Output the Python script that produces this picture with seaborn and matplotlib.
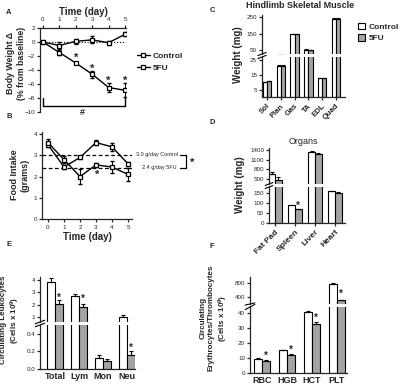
import numpy as np
import pandas as pd
import matplotlib
matplotlib.use('Agg')
import matplotlib.pyplot as plt
from matplotlib.lines import Line2D
from matplotlib.patches import Patch
import seaborn as sns

# A - body weight change
days = [0, 1, 2, 3, 4, 5]
bw_ctrl = [0.0, -0.5, 0.1, 0.3, -0.1, 1.1]
bw_ctrl_err = [0.1, 0.5, 0.4, 0.5, 0.3, 0.3]
bw_5fu = [0.0, -1.5, -3.0, -4.6, -6.5, -6.9]
bw_5fu_err = [0.1, 0.3, 0.2, 0.5, 0.6, 1.0]
bw_star_days = [2, 3, 4, 5]
bw_star_y = [-2.3, -3.8, -5.6, -5.6]

# B - food intake
fi_ctrl = [3.5, 2.45, 2.9, 3.6, 3.4, 2.6]
fi_ctrl_err = [0.1, 0.1, 0.05, 0.1, 0.2, 0.1]
fi_5fu = [3.6, 2.8, 2.0, 2.55, 2.45, 2.1]
fi_5fu_err = [0.15, 0.15, 0.35, 0.1, 0.3, 0.3]
fi_avg = [3.0, 2.4]
fi_avg_labels = ['3.0 g/day Control', '2.4 g/day 5FU']

# C - hindlimb muscles
muscles = ['Sol', 'Plan', 'Gas', 'TA', 'EDL', 'Quad']
mus_ctrl = [10.0, 21.0, 147, 52, 12.5, 237]
mus_ctrl_err = [0.4, 0.6, 3, 2, 0.4, 5]
mus_5fu = [10.5, 21.0, 145, 51, 12.5, 236]
mus_5fu_err = [0.4, 0.6, 3, 2, 0.4, 5]

# D - organs
organs = ['Fat Pad', 'Spleen', 'Liver', 'Heart']
org_ctrl = [650, 88, 1330, 158]
org_ctrl_err = [60, 2, 50, 3]
org_5fu = [480, 68, 1290, 150]
org_5fu_err = [90, 3, 30, 3]

# E - leukocytes
leuko = ['Total', 'Lym', 'Mon', 'Neu']
leu_ctrl = [3.85, 2.7, 0.12, 1.0]
leu_ctrl_err = [0.35, 0.15, 0.035, 0.2]
leu_5fu = [2.05, 1.8, 0.09, 0.16]
leu_5fu_err = [0.3, 0.3, 0.02, 0.04]

# F - erythrocytes / thrombocytes
eryth = ['RBC', 'HGB', 'HCT', 'PLT']
ery_ctrl = [9.5, 15.3, 40.5, 780]
ery_ctrl_err = [0.3, 0.3, 0.6, 15]
ery_5fu = [8.2, 12.0, 33.0, 300]
ery_5fu_err = [0.4, 0.6, 1.2, 15]

sns.set_style('ticks')
plt.rcParams['font.family'] = ['Liberation Sans', 'DejaVu Sans']
plt.rcParams['mathtext.default'] = 'regular'
plt.rcParams['axes.linewidth'] = 0.9
plt.rcParams['xtick.major.size'] = 2.5
plt.rcParams['ytick.major.size'] = 2.5
plt.rcParams['xtick.major.width'] = 0.9
plt.rcParams['ytick.major.width'] = 0.9
plt.rcParams['xtick.major.pad'] = 1.5
plt.rcParams['ytick.major.pad'] = 1

GRAY = '#a3a3a3'
TICK = 4.5
fig = plt.figure(figsize=(4, 3.9), dpi=100)


def rect(x0, y0, x1, y1):
    return [x0 / 400, 1 - y1 / 390, (x1 - x0) / 400, (y1 - y0) / 390]


def ftext(x, y, s, **kw):
    fig.text(x / 400, 1 - y / 390, s, **kw)


def bar_pair(ax, cats, ctrl, ctrl_err, fu, fu_err, width):
    n = len(cats)
    df = pd.DataFrame({'cat': cats * 2,
                       'group': ['Control'] * n + ['5FU'] * n,
                       'val': ctrl + fu})
    sns.barplot(data=df, x='cat', y='val', hue='group', order=cats,
                hue_order=['Control', '5FU'],
                palette={'Control': 'white', '5FU': GRAY}, saturation=1,
                edgecolor='black', linewidth=0.8, width=width,
                errorbar=None, legend=False, ax=ax)
    xs = np.arange(n)
    for off, v, e in [(-width / 4, ctrl, ctrl_err), (width / 4, fu, fu_err)]:
        ax.errorbar(xs + off, v, yerr=[np.zeros(n), e], fmt='none',
                    ecolor='black', elinewidth=0.8, capsize=1.5, capthick=0.8)
    ax.set_xlabel('')
    ax.set_ylabel('')


def broken(top_px, bot_px, cats, ctrl, ctrl_err, fu, fu_err, width,
           xlim, top_lim, bot_lim, top_ticks, bot_ticks):
    axt = fig.add_axes(rect(*top_px))
    axb = fig.add_axes(rect(*bot_px))
    for ax in (axt, axb):
        bar_pair(ax, cats, ctrl, ctrl_err, fu, fu_err, width)
        ax.set_xlim(*xlim)
        sns.despine(ax=ax)
        ax.tick_params(labelsize=TICK)
    axt.set_ylim(*top_lim)
    axb.set_ylim(*bot_lim)
    axt.set_yticks(top_ticks)
    axb.set_yticks(bot_ticks)
    axt.spines['bottom'].set_visible(False)
    axt.tick_params(axis='x', bottom=False, labelbottom=False)
    # break marks
    for ax, y in [(axt, 0), (axb, 1)]:
        ax.plot([-0.05, 0.05], [y - 0.04, y + 0.04], transform=ax.transAxes,
                color='black', lw=0.8, clip_on=False)
    return axt, axb


# ---------- A ----------
axA = fig.add_axes(rect(40, 28, 126, 112))
ax_kw = dict(color='black', marker='s', markersize=3.5, markerfacecolor='white',
             markeredgecolor='black', markeredgewidth=0.9, linewidth=1)
axA.axhline(0, color='black', ls=':', lw=0.8)
axA.errorbar(days, bw_ctrl, yerr=bw_ctrl_err, fmt='none', ecolor='black', elinewidth=0.8, capsize=1.5)
axA.errorbar(days, bw_5fu, yerr=bw_5fu_err, fmt='none', ecolor='black', elinewidth=0.8, capsize=1.5)
sns.lineplot(x=days, y=bw_ctrl, ax=axA, zorder=3, **ax_kw)
sns.lineplot(x=days, y=bw_5fu, ax=axA, zorder=3, **ax_kw)
for d, y in zip(bw_star_days, bw_star_y):
    axA.text(d, y, '*', ha='center', va='center', fontsize=8, fontweight='bold')
axA.plot([0, 0, 5, 5], [-8.0, -9.2, -9.2, -8.0], color='black', lw=1, clip_on=False)
axA.text(2.4, -10.1, '#', ha='center', va='center', fontsize=6.5, fontweight='bold')
axA.set_xlim(-0.18, 5.06)
axA.set_ylim(-10, 2)
axA.set_xticks(days)
axA.set_yticks([2, 0, -2, -4, -6, -8, -10])
axA.xaxis.tick_top()
axA.xaxis.set_label_position('top')
axA.spines['bottom'].set_visible(False)
axA.spines['right'].set_visible(False)
axA.tick_params(labelsize=TICK)
axA.set_xlabel('Time (day)', fontsize=7, fontweight='bold', labelpad=2)
ftext(16, 63, 'Body Weight \u0394\n(% from baseline)', rotation=90, ha='center',
      va='center', fontsize=6.3, fontweight='bold', linespacing=1.15)
leg_h = [Line2D([], [], **ax_kw), Line2D([], [], **ax_kw)]
fig.legend(leg_h, ['Control', '5FU'], loc='upper left',
           bbox_to_anchor=(129 / 400, 1 - 45 / 390), frameon=False,
           prop={'size': 6, 'weight': 'bold'}, handlelength=1.6,
           handletextpad=0.3, labelspacing=0.4)

# ---------- B ----------
axB = fig.add_axes(rect(42, 132, 132, 219))
for y in fi_avg:
    axB.axhline(y, color='black', ls='--', lw=0.9, dashes=(3, 2))
axB.errorbar(days, fi_ctrl, yerr=fi_ctrl_err, fmt='none', ecolor='black', elinewidth=0.8, capsize=1.5)
axB.errorbar(days, fi_5fu, yerr=fi_5fu_err, fmt='none', ecolor='black', elinewidth=0.8, capsize=1.5)
sns.lineplot(x=days, y=fi_ctrl, ax=axB, zorder=3, **ax_kw)
sns.lineplot(x=days, y=fi_5fu, ax=axB, zorder=3, **ax_kw)
axB.text(3.05, 2.1, '*', ha='center', va='center', fontsize=8, fontweight='bold')
axB.set_xlim(-0.375, 5.25)
axB.set_ylim(0, 4.1)
axB.set_xticks(days)
axB.set_yticks([0, 1, 2, 3, 4])
sns.despine(ax=axB)
axB.tick_params(labelsize=TICK)
axB.set_xlabel('Time (day)', fontsize=7, fontweight='bold', labelpad=2)
ftext(20, 175, 'Food Intake\n(grams)', rotation=90, ha='center', va='center',
      fontsize=6.5, fontweight='bold', linespacing=1.15)
ftext(178, 155, fi_avg_labels[0], ha='right', va='center', fontsize=4)
ftext(177, 168, fi_avg_labels[1], ha='right', va='center', fontsize=4)
fig.add_artist(Line2D([180 / 400, 186 / 400, 186 / 400, 180 / 400],
                      [1 - 155 / 390, 1 - 155 / 390, 1 - 168 / 390, 1 - 168 / 390],
                      color='black', lw=0.9))
ftext(192, 163, '*', ha='center', va='center', fontsize=8, fontweight='bold')

# ---------- C ----------
axCt, axCb = broken((262, 15, 345, 54), (262, 57, 345, 97), muscles,
                    mus_ctrl, mus_ctrl_err, mus_5fu, mus_5fu_err, 0.6,
                    (-0.36, 5.65), (26, 262), (0, 27), [50, 150, 250], [5, 15, 25])
axCb.set_xticks(range(len(muscles)))
axCb.set_xticklabels(muscles, rotation=45, ha='right', rotation_mode='anchor',
                     fontsize=5.5, fontweight='bold')
ftext(300, 6, 'Hindlimb Skeletal Muscle', ha='center', va='center',
      fontsize=6.5, fontweight='bold')
ftext(238, 55, 'Weight (mg)', rotation=90, ha='center', va='center',
      fontsize=7, fontweight='bold')
leg_p = [Patch(facecolor='white', edgecolor='black', lw=0.8),
         Patch(facecolor=GRAY, edgecolor='black', lw=0.8)]
fig.legend(leg_p, ['Control', '5FU'], loc='upper left',
           bbox_to_anchor=(350 / 400, 1 - 15 / 390), frameon=False,
           prop={'size': 6, 'weight': 'bold'}, handlelength=0.9, handleheight=0.9,
           handletextpad=0.4, labelspacing=0.35)

# ---------- D ----------
axDt, axDb = broken((269, 148, 345, 184), (269, 187, 345, 223), organs,
                    org_ctrl, org_ctrl_err, org_5fu, org_5fu_err, 0.66,
                    (-0.3, 3.5), (350, 1460), (0, 180),
                    [500, 800, 1100, 1400], [0, 50, 100, 150])
axDb.set_xticks(range(len(organs)))
axDb.set_xticklabels(organs, rotation=45, ha='right', rotation_mode='anchor',
                     fontsize=6, fontweight='bold')
axDb.text(1 + 0.165, 85, '*', ha='center', va='center', fontsize=7, fontweight='bold')
ftext(303, 141, 'Organs', ha='center', va='center', fontsize=6.5)
ftext(240, 185, 'Weight (mg)', rotation=90, ha='center', va='center',
      fontsize=7, fontweight='bold')

# ---------- E ----------
axEt, axEb = broken((40, 277, 135, 322), (40, 325, 135, 369), leuko,
                    leu_ctrl, leu_ctrl_err, leu_5fu, leu_5fu_err, 0.66,
                    (-0.625, 3.33), (0.6, 4.25), (0, 0.5),
                    [1, 2, 3, 4], [0.0, 0.2, 0.4])
axEb.set_yticklabels(['0.0', '0.2', '0.4'])
axEb.set_xticks(range(len(leuko)))
axEb.set_xticklabels(leuko, fontsize=6.5, fontweight='bold')
axEb.tick_params(axis='x', length=0, pad=2)
for i, y in [(0, 2.55), (1, 2.5)]:
    axEt.text(i + 0.165, y, '*', ha='center', va='center', fontsize=7, fontweight='bold')
axEb.text(3 + 0.165, 0.245, '*', ha='center', va='center', fontsize=7, fontweight='bold')
ftext(11, 320, 'Circulating Leukocytes\n(Cells x 10$^9$)', rotation=90,
      ha='center', va='center', fontsize=5.8, fontweight='bold', linespacing=1.25)

# ---------- F ----------
axFt, axFb = broken((250, 277, 347, 304), (250, 307, 347, 373), eryth,
                    ery_ctrl, ery_ctrl_err, ery_5fu, ery_5fu_err, 0.66,
                    (-0.48, 3.4), (200, 970), (0, 44),
                    [400, 800], [0, 10, 20, 30, 40])
axFb.set_xticks(range(len(eryth)))
axFb.set_xticklabels(eryth, fontsize=6.5, fontweight='bold')
axFb.tick_params(axis='x', length=0, pad=2)
for i, y in [(0, 11.5), (1, 15.3), (2, 36.7)]:
    axFb.text(i + 0.165, y, '*', ha='center', va='center', fontsize=7, fontweight='bold')
axFt.text(3 + 0.165, 480, '*', ha='center', va='center', fontsize=7, fontweight='bold')
ftext(215, 318, 'Circulating\nErythrocytes/Thrombocytes\n(Cells x 10$^9$)', rotation=90,
      ha='center', va='center', fontsize=5.8, fontweight='bold', linespacing=1.25)

# panel letters
for s, x, y in [('A', 9, 13), ('B', 9, 117), ('C', 212, 10),
                ('D', 212, 123), ('E', 9, 245), ('F', 212, 247)]:
    ftext(x, y, s, ha='center', va='center', fontsize=5.5, fontweight='bold')

fig.savefig('out.png', dpi=100, facecolor='white')
